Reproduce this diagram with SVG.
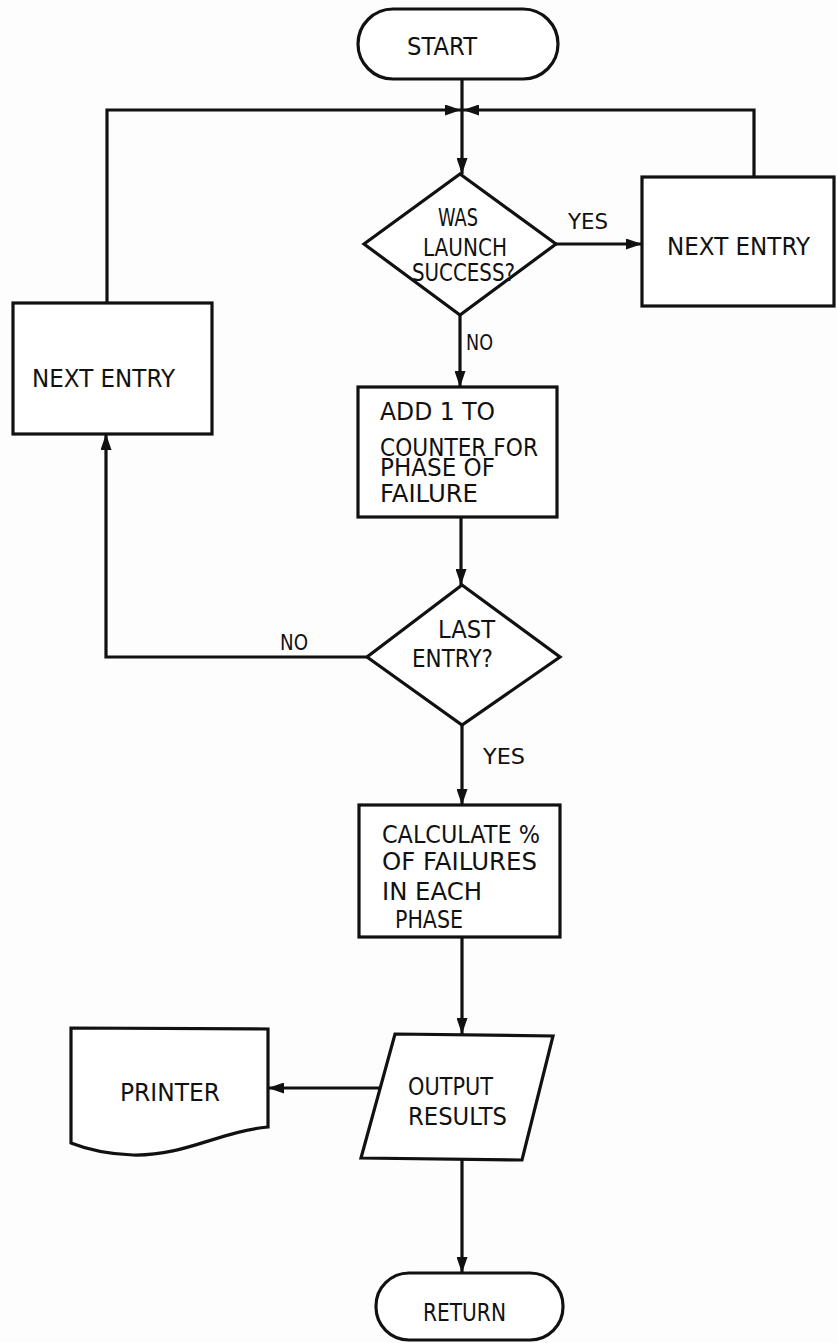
<svg xmlns="http://www.w3.org/2000/svg" width="837" height="1343" viewBox="0 0 837 1343">
<style>
.s{fill:#fff;stroke:#111;stroke-width:3.2;stroke-linejoin:miter}
.l{fill:none;stroke:#111;stroke-width:3.2}
.t{font-family:"DejaVu Sans","Liberation Sans",sans-serif;font-size:24px;fill:#111}
.lb{font-family:"DejaVu Sans","Liberation Sans",sans-serif;font-size:22px;fill:#111}
</style>
<defs>
<marker id="ah" viewBox="0 0 16 11" refX="16" refY="5.5" markerWidth="16" markerHeight="11" markerUnits="userSpaceOnUse" orient="auto">
<path d="M0,0 L16,5.5 L0,11 Z" fill="#111"/>
</marker>
</defs>
<rect width="837" height="1343" fill="#fdfdfd"/>
<g id="connectors">
<path class="l" d="M462,79 V110"/>
<path class="l" d="M107,303 V110 H461" marker-end="url(#ah)"/>
<path class="l" d="M754,177 V110 H463" marker-end="url(#ah)"/>
<path class="l" d="M462,110 V174" marker-end="url(#ah)"/>
<path class="l" d="M556,244 H642" marker-end="url(#ah)"/>
<path class="l" d="M460,315 V387" marker-end="url(#ah)"/>
<path class="l" d="M461,517 V585" marker-end="url(#ah)"/>
<path class="l" d="M367,657 H106 V434" marker-end="url(#ah)"/>
<path class="l" d="M462,725 V805" marker-end="url(#ah)"/>
<path class="l" d="M462,937 V1034" marker-end="url(#ah)"/>
<path class="l" d="M380,1088 H268" marker-end="url(#ah)"/>
<path class="l" d="M462,1160 V1273" marker-end="url(#ah)"/>
<text class="lb" x="568" y="229" textLength="40" lengthAdjust="spacingAndGlyphs">YES</text>
<text class="lb" x="466" y="350" textLength="27" lengthAdjust="spacingAndGlyphs">NO</text>
<text class="lb" x="280" y="650" textLength="28" lengthAdjust="spacingAndGlyphs">NO</text>
<text class="lb" x="483" y="764" textLength="42" lengthAdjust="spacingAndGlyphs">YES</text>
</g>
<g id="start">
<rect class="s" x="358" y="9" width="200" height="70" rx="35"/>
<text class="t" x="407" y="55" textLength="70" lengthAdjust="spacingAndGlyphs">START</text>
</g>
<g id="launch-success">
<path class="s" d="M460,174 L556,244 L460,315 L364,244 Z"/>
<text class="t" x="438" y="226" textLength="40" lengthAdjust="spacingAndGlyphs">WAS</text>
<text class="t" x="423" y="256" textLength="84" lengthAdjust="spacingAndGlyphs">LAUNCH</text>
<text class="t" x="412" y="281" textLength="103" lengthAdjust="spacingAndGlyphs">SUCCESS?</text>
</g>
<g id="next-entry-right">
<rect class="s" x="642" y="177" width="192" height="129"/>
<text class="t" x="667" y="255" textLength="143" lengthAdjust="spacingAndGlyphs">NEXT ENTRY</text>
</g>
<g id="next-entry-left">
<rect class="s" x="13" y="303" width="199" height="131"/>
<text class="t" x="32" y="387" textLength="143" lengthAdjust="spacingAndGlyphs">NEXT ENTRY</text>
</g>
<g id="add-counter">
<rect class="s" x="358" y="387" width="199" height="130"/>
<text class="t" x="380" y="420" textLength="115" lengthAdjust="spacingAndGlyphs">ADD 1 TO</text>
<text class="t" x="380" y="456" textLength="158" lengthAdjust="spacingAndGlyphs">COUNTER FOR</text>
<text class="t" x="380" y="476" textLength="115" lengthAdjust="spacingAndGlyphs">PHASE OF</text>
<text class="t" x="380" y="502" textLength="98" lengthAdjust="spacingAndGlyphs">FAILURE</text>
</g>
<g id="last-entry">
<path class="s" d="M462,585 L560,657 L462,725 L367,657 Z"/>
<text class="t" x="438" y="638" textLength="57" lengthAdjust="spacingAndGlyphs">LAST</text>
<text class="t" x="412" y="667" textLength="81" lengthAdjust="spacingAndGlyphs">ENTRY?</text>
</g>
<g id="calculate">
<rect class="s" x="359" y="805" width="201" height="132"/>
<text class="t" x="382" y="843" textLength="158" lengthAdjust="spacingAndGlyphs">CALCULATE %</text>
<text class="t" x="382" y="870" textLength="155" lengthAdjust="spacingAndGlyphs">OF FAILURES</text>
<text class="t" x="382" y="900" textLength="100" lengthAdjust="spacingAndGlyphs">IN EACH</text>
<text class="t" x="395" y="928" textLength="68" lengthAdjust="spacingAndGlyphs">PHASE</text>
</g>
<g id="output">
<path class="s" d="M395,1034 L553,1036 L522,1160 L361,1158 Z"/>
<text class="t" x="408" y="1095" textLength="85" lengthAdjust="spacingAndGlyphs">OUTPUT</text>
<text class="t" x="408" y="1125" textLength="99" lengthAdjust="spacingAndGlyphs">RESULTS</text>
</g>
<g id="printer">
<path class="s" d="M71,1028 L268,1029 L268,1127 C218,1132 185,1156 133,1155 C105,1154 86,1149 71,1143 Z"/>
<text class="t" x="120" y="1101" textLength="100" lengthAdjust="spacingAndGlyphs">PRINTER</text>
</g>
<g id="return">
<rect class="s" x="376" y="1273" width="187" height="67" rx="33"/>
<text class="t" x="423" y="1321" textLength="83" lengthAdjust="spacingAndGlyphs">RETURN</text>
</g>
</svg>
